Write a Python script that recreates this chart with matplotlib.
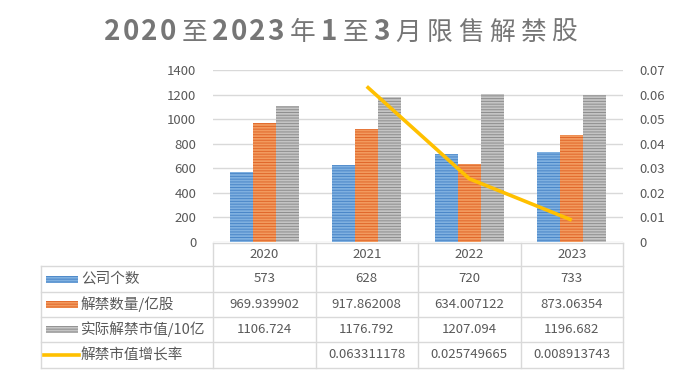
import matplotlib
matplotlib.use("Agg")
import matplotlib.pyplot as plt
from matplotlib.patches import Rectangle
from matplotlib.lines import Line2D
import numpy as np

plt.rcParams['font.family'] = ['Noto Sans CJK SC', 'DejaVu Sans']
plt.rcParams['hatch.linewidth'] = 0.7

title = "2020至2023年1至3月限售解禁股"
years = ["2020", "2021", "2022", "2023"]
companies = [573, 628, 720, 733]
unlock_qty = [969.939902, 917.862008, 634.007122, 873.06354]
unlock_value = [1106.724, 1176.792, 1207.094, 1196.682]
growth = [None, 0.063311178, 0.025749665, 0.008913743]

series_names = ["公司个数", "解禁数量/亿股", "实际解禁市值/10亿", "解禁市值增长率"]
table_text = [
    ["573", "628", "720", "733"],
    ["969.939902", "917.862008", "634.007122", "873.06354"],
    ["1106.724", "1176.792", "1207.094", "1196.682"],
    ["", "0.063311178", "0.025749665", "0.008913743"],
]
left_ticks = [0, 200, 400, 600, 800, 1000, 1200, 1400]
right_ticks = [0, 0.01, 0.02, 0.03, 0.04, 0.05, 0.06, 0.07]
right_labels = ["0", "0.01", "0.02", "0.03", "0.04", "0.05", "0.06", "0.07"]

face = ["#7FB0E0", "#F29A5E", "#C4C4C4"]
hatchc = ["#4A86C8", "#E0672A", "#8E8E8E"]
line_color = "#FFC000"
text_color = "#595959"
grid_color = "#D9D9D9"

W, H = 692, 381
fig = plt.figure(figsize=(W / 100, H / 100), dpi=100)

def fx(px):
    return px / W

def fy(py):
    return 1 - py / H

ax_left, ax_right, ax_top, ax_bot = 213, 623, 70, 242
ax = fig.add_axes([fx(ax_left), fy(ax_bot), fx(ax_right - ax_left), (ax_bot - ax_top) / H])
ax2 = ax.twinx()

x = np.arange(len(years))
bw = 0.225
for i, vals in enumerate([companies, unlock_qty, unlock_value]):
    ax.bar(x + (i - 1) * bw, vals, width=bw, color=face[i], edgecolor=hatchc[i],
           linewidth=0, hatch='------', zorder=3)

ax.set_xlim(-0.5, 3.5)
ax.set_ylim(0, 1400)
ax.set_yticks(left_ticks)
ax.set_yticklabels([str(t) for t in left_ticks])
ax.yaxis.grid(True, color=grid_color, linewidth=1.0, zorder=0)
ax.set_axisbelow(True)
ax.set_xticks([])
for s in ax.spines.values():
    s.set_visible(False)
for s in ax2.spines.values():
    s.set_visible(False)
ax.tick_params(axis='y', length=0, pad=12, labelsize=9.5, labelcolor=text_color)

gx = [xi for xi, g in zip(x, growth) if g is not None]
gy = [g for g in growth if g is not None]
ax2.plot(gx, gy, color=line_color, linewidth=2.6, zorder=5, solid_capstyle='butt')
ax2.set_ylim(0, 0.07)
ax2.set_yticks(right_ticks)
ax2.set_yticklabels(right_labels)
ax2.tick_params(axis='y', length=0, pad=12, labelsize=9.5, labelcolor=text_color)

# Title, laid out character by character (digits bold, CJK regular, letter spacing)
renderer = fig.canvas.get_renderer()
t_x0, t_x1, t_base = 104, 577, 40
pieces, widths = [], []
for ch in title:
    if ch.isdigit():
        t = fig.text(0, 0, ch, fontsize=20, fontweight='bold', color='#767676',
                     ha='left', va='baseline')
    else:
        t = fig.text(0, 0, ch, fontsize=18.5, fontweight='normal', color='#767676',
                     ha='left', va='baseline')
    widths.append(t.get_window_extent(renderer).width)
    pieces.append(t)
gap_w = []
for i in range(len(title) - 1):
    gap_w.append(2.5 if (title[i].isdigit() and title[i + 1].isdigit()) else 6.5)
scale = ((t_x1 - t_x0) - sum(widths)) / sum(gap_w)
cur = t_x0
for i, (t, w) in enumerate(zip(pieces, widths)):
    t.set_position((fx(cur), fy(t_base)))
    if i < len(gap_w):
        cur += w + gap_w[i] * scale

# Table
border = "#D9D9D9"
tbl_left = 41
col_edges = [213, 315.5, 418, 520.5, 623]
row_edges = [243, 266, 292, 317, 342, 368]

def hline(y, x0, x1):
    fig.add_artist(Line2D([fx(x0), fx(x1)], [fy(y), fy(y)], color=border, linewidth=1.0))

def vline(xp, y0, y1):
    fig.add_artist(Line2D([fx(xp), fx(xp)], [fy(y0), fy(y1)], color=border, linewidth=1.0))

hline(row_edges[0], col_edges[0], col_edges[-1])
for y in row_edges[1:]:
    hline(y, tbl_left, col_edges[-1])
for xp in col_edges:
    vline(xp, row_edges[0], row_edges[-1])
vline(tbl_left, row_edges[1], row_edges[-1])

for j, yr in enumerate(years):
    cx = (col_edges[j] + col_edges[j + 1]) / 2
    cy = (row_edges[0] + row_edges[1]) / 2
    fig.text(fx(cx), fy(cy), yr, ha='center', va='center', fontsize=9.5, color=text_color)

for r in range(4):
    cy = (row_edges[r + 1] + row_edges[r + 2]) / 2
    for j in range(4):
        cx = (col_edges[j] + col_edges[j + 1]) / 2
        fig.text(fx(cx), fy(cy), table_text[r][j], ha='center', va='center',
                 fontsize=9.5, color=text_color)
    if r < 3:
        fig.add_artist(Rectangle((fx(46), fy(cy + 3.5)), fx(32), 7 / H, facecolor=face[r],
                                 edgecolor=hatchc[r], linewidth=0, hatch='------',
                                 transform=fig.transFigure))
    else:
        fig.add_artist(Line2D([fx(44), fx(79)], [fy(cy), fy(cy)], color=line_color,
                              linewidth=2.6))
    fig.text(fx(81), fy(cy), series_names[r], ha='left', va='center', fontsize=10.5,
             color=text_color)

fig.savefig("out.png", dpi=100, facecolor='white')
